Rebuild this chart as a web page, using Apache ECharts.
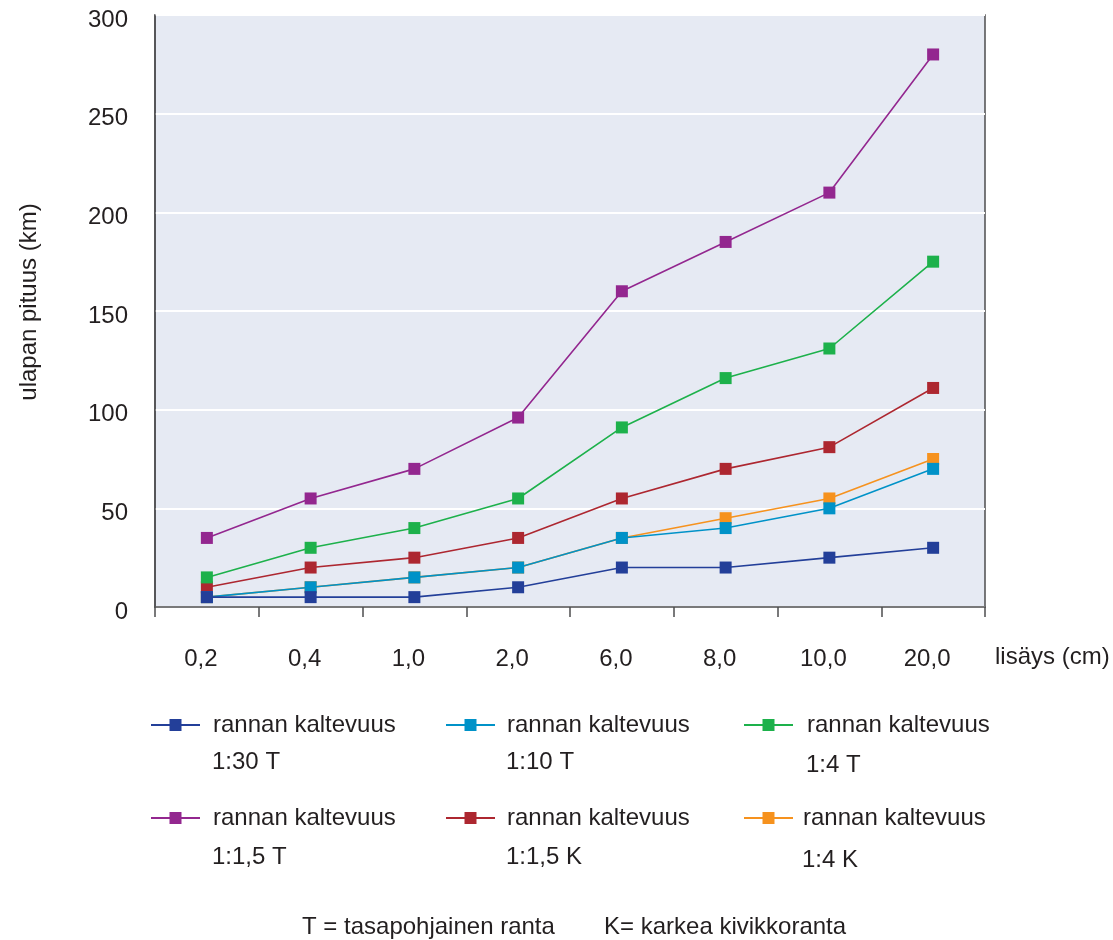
<!DOCTYPE html>
<html><head><meta charset="utf-8">
<script src="https://cdn.jsdelivr.net/npm/echarts@6/dist/echarts.min.js"></script>
<style>html,body{margin:0;padding:0;background:#fff}#c{width:1113px;height:940px}</style>
</head><body><div id="c"></div>
<script>
const categories = ['0,2','0,4','1,0','2,0','6,0','8,0','10,0','20,0'];
const seriesNames = ['1:30 T','1:10 T','1:4 T','1:1,5 T','1:1,5 K','1:4 K'];
const s_130T = [5, 5, 5, 10, 20, 20, 25, 30];
const s_110T = [5, 10, 15, 20, 35, 40, 50, 70];
const s_14T  = [15, 30, 40, 55, 91, 116, 131, 175];
const s_115T = [35, 55, 70, 96, 160, 185, 210, 280];
const s_115K = [10, 20, 25, 35, 55, 70, 81, 111];
const s_14K  = [5, 10, 15, 20, 35, 45, 55, 75];
const yTicks = [0, 50, 100, 150, 200, 250, 300];
const legendPrefix = 'rannan kaltevuus';
const footnote1 = 'T = tasapohjainen ranta';
const footnote2 = 'K= karkea kivikkoranta';

const seriesData = [s_130T, s_110T, s_14T, s_115T, s_115K, s_14K];
const colors = ['#233f99', '#0092c8', '#1db14b', '#93278f', '#ad2730', '#f6921e'];
const drawOrder = [5, 4, 3, 2, 1, 0];
const legendPos = [
  {x:150, y:713, tx:212, lx:212, ly:763},
  {x:445, y:713, tx:506, lx:506, ly:763},
  {x:743, y:713, tx:806, lx:806, ly:766},
  {x:150, y:806, tx:212, lx:212, ly:858},
  {x:445, y:806, tx:506, lx:506, ly:858},
  {x:743, y:806, tx:802, lx:802, ly:861}
];
const FONT = "'Liberation Sans', Arial, sans-serif";
const TXT = '#231f20';
const FS = 24;
const IW = 49, IH = 15;

const chart = echarts.init(document.getElementById('c'));
const series = drawOrder.map(i => ({
  name: legendPrefix + ' ' + seriesNames[i],
  type: 'line',
  data: seriesData[i],
  symbol: 'rect',
  symbolSize: 12,
  showSymbol: true,
  color: colors[i],
  lineStyle: {width: 1.6, color: colors[i]},
  itemStyle: {color: colors[i]},
  z: 2 + (5 - i)
}));

const legends = seriesNames.map((n, i) => ({
  data: [legendPrefix + ' ' + n],
  left: legendPos[i].x,
  top: legendPos[i].y,
  padding: 0,
  itemWidth: IW,
  itemHeight: IH,
  formatter: () => legendPrefix,
  selectedMode: false,
  textStyle: {fontSize: FS, fontFamily: FONT, color: TXT,
              padding: [0,0,0, legendPos[i].tx - legendPos[i].x - IW - 5]}
}));

const graphics = seriesNames.map((n, i) => ({
  type: 'text',
  left: legendPos[i].lx,
  top: legendPos[i].ly - 13,
  style: {text: n, font: FS + 'px ' + FONT, fill: TXT}
}));
graphics.push({type:'text', left: 995, top: 645, style:{text:'lisäys (cm)', font: FS + 'px ' + FONT, fill: TXT}});
graphics.push({type:'text', left: 302, top: 915, style:{text: footnote1, font: FS + 'px ' + FONT, fill: TXT}});
graphics.push({type:'text', left: 604, top: 915, style:{text: footnote2, font: FS + 'px ' + FONT, fill: TXT}});

chart.setOption({
  animation: false,
  textStyle: {fontFamily: FONT},
  grid: {left: 155, right: 128, top: 15, bottom: 333, show: true,
         backgroundColor: '#e6eaf3', borderColor: '#4d4d4f', borderWidth: 1.5, containLabel: false},
  legend: legends,
  graphic: graphics,
  xAxis: {
    type: 'category', data: categories, boundaryGap: true,
    axisLine: {show: true, lineStyle: {color: '#4d4d4f', width: 1.5}},
    axisTick: {show: true, length: 10, lineStyle: {color: '#4d4d4f', width: 1.5}},
    axisLabel: {fontSize: FS, color: TXT, margin: 40, fontFamily: FONT, padding: [0, 12, 0, 0]},
    splitLine: {show: false}
  },
  yAxis: {
    type: 'value', min: yTicks[0], max: yTicks[yTicks.length-1], interval: 50,
    name: 'ulapan pituus (km)', nameLocation: 'middle', nameGap: 114, nameRotate: 90,
    nameTextStyle: {fontSize: FS, color: TXT, fontFamily: FONT, padding: [0, 0, 0, 18]},
    axisLine: {show: true, lineStyle: {color: '#4d4d4f', width: 1.5}},
    axisTick: {show: false},
    axisLabel: {fontSize: FS, color: TXT, margin: 27, fontFamily: FONT,
                formatter: v => '{v|' + v + '}',
                rich: {v: {fontSize: FS, color: TXT, fontFamily: FONT, padding: [10, 0, 0, 0]}}},
    splitLine: {show: true, lineStyle: {color: '#ffffff', width: 2}}
  },
  series: series
});
</script></body></html>
